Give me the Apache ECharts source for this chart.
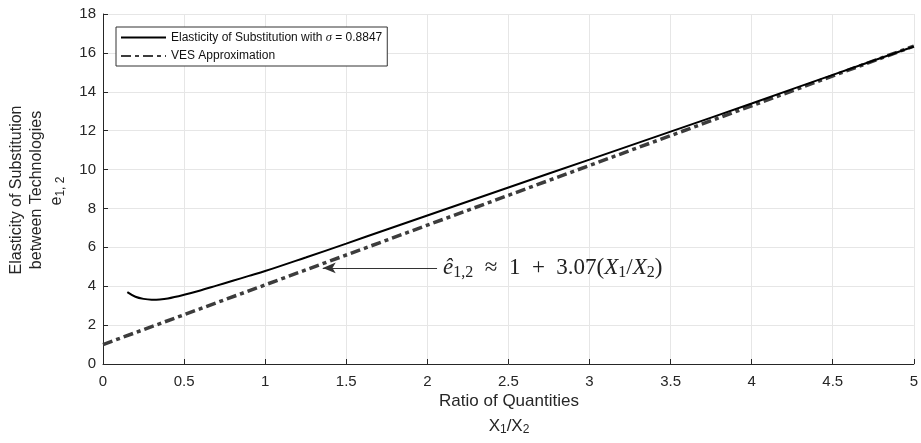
<!DOCTYPE html>
<html><head><meta charset="utf-8">
<script src="https://cdn.jsdelivr.net/npm/echarts@6/dist/echarts.min.js"></script>
<style>html,body{margin:0;padding:0;background:#fff}#c{width:921px;height:443px}</style>
</head><body><div id="c"></div>
<script>
// Data
const ratioX = [0.15, 0.2, 0.25, 0.3, 0.35, 0.4, 0.5, 0.6, 0.7, 0.8, 0.9, 1.0, 1.25, 1.5, 1.75, 2.0, 2.5, 3.0, 3.5, 4.0, 4.5, 5.0];
const elasticityY = [3.70, 3.46, 3.35, 3.31, 3.32, 3.37, 3.56, 3.78, 4.03, 4.28, 4.53, 4.78, 5.48, 6.19, 6.92, 7.64, 9.08, 10.51, 11.95, 13.40, 14.87, 16.33];
const vesX = [0, 5];
const vesY = [1, 16.35];
const xTicks = [0, 0.5, 1, 1.5, 2, 2.5, 3, 3.5, 4, 4.5, 5];
const yTicks = [0, 2, 4, 6, 8, 10, 12, 14, 16, 18];
const annStart = [1.355, 4.94];
const annEnd = [2.06, 4.94];
const seriesNames = ['Elasticity of Substitution with σ = 0.8847', 'VES Approximation'];

const pair = (xs, ys) => xs.map((x, i) => [x, ys[i]]);
const txt = '#262626';
const sans = 'Liberation Sans, Arial, Helvetica, sans-serif';
const serif = 'Liberation Serif, DejaVu Serif, serif';
const en = '\u2002';

const chart = echarts.init(document.getElementById('c'), null, {renderer: 'canvas'});
chart.setOption({
  animation: false,
  backgroundColor: '#fff',
  grid: {left: 103, right: 6, top: 14, bottom: 79, containLabel: false},
  xAxis: {
    type: 'value', min: xTicks[0], max: xTicks[xTicks.length - 1], interval: 0.5,
    axisLine: {show: true, onZero: false, lineStyle: {color: txt, width: 1}},
    axisTick: {show: true, inside: true, length: 5, lineStyle: {color: txt}},
    axisLabel: {color: txt, fontSize: 15, fontFamily: sans, margin: 10},
    splitLine: {show: true, lineStyle: {color: '#e6e6e6', width: 1}}
  },
  yAxis: {
    type: 'value', min: yTicks[0], max: yTicks[yTicks.length - 1], interval: 2,
    axisLine: {show: true, onZero: false, lineStyle: {color: txt, width: 1}},
    axisTick: {show: true, inside: true, length: 5, lineStyle: {color: txt}},
    axisLabel: {color: txt, fontSize: 15, fontFamily: sans, margin: 7},
    splitLine: {show: true, lineStyle: {color: '#e6e6e6', width: 1}}
  },
  legend: {
    show: true, orient: 'vertical', left: 116, top: 27,
    backgroundColor: '#fff', borderColor: '#333', borderWidth: 1,
    padding: [4, 5, 4, 4], itemGap: 6, itemWidth: 45, itemHeight: 12,
    itemStyle: {color: 'rgba(0,0,0,0)', borderWidth: 0, opacity: 0},
    textStyle: {color: '#111', fontSize: 12, fontFamily: sans,
      rich: {i: {fontStyle: 'italic', fontSize: 12.5, fontFamily: serif, color: '#111'}}},
    formatter: n => n.replace('σ', '{i|σ}'),
    data: seriesNames
  },
  series: [
    {
      name: seriesNames[0], type: 'line', data: pair(ratioX, elasticityY),
      showSymbol: false, symbol: 'none', smooth: 0.35, z: 3,
      lineStyle: {color: '#000', width: 2}, itemStyle: {color: '#000'}
    },
    {
      name: seriesNames[1], type: 'line', data: pair(vesX, vesY),
      showSymbol: false, symbol: 'none', z: 2,
      lineStyle: {color: '#3c3c3c', width: 3.5, type: [10, 4, 4, 4]}, itemStyle: {color: '#3c3c3c'},
      markLine: {
        silent: true, animation: false,
        symbol: ['arrow', 'none'], symbolSize: [8, 13],
        lineStyle: {type: 'solid', width: 1, color: '#333'},
        label: {
          show: true, position: 'end', distance: 6,
          formatter: '{i|ê}{s|1,2}{n|' + en + '≈' + en + '1' + en + '+' + en + '3.07(}{i|X}{s|1}{n|/}{i|X}{s|2}{n|)}',
          rich: {
            i: {fontFamily: serif, fontStyle: 'italic', fontSize: 23, color: '#222'},
            n: {fontFamily: serif, fontSize: 23, color: '#222'},
            s: {fontFamily: serif, fontSize: 16, color: '#222', padding: [9, 0, 0, 0]}
          }
        },
        data: [[{coord: annStart}, {coord: annEnd}]]
      }
    }
  ],
  graphic: [
    {type: 'text', x: 17, y: 190, rotation: Math.PI / 2,
      style: {text: 'Elasticity of Substitution', fill: txt, font: '16px ' + sans, textAlign: 'center', textVerticalAlign: 'middle'}},
    {type: 'text', x: 37, y: 190, rotation: Math.PI / 2,
      style: {text: 'between Technologies', fill: txt, font: '16px ' + sans, textAlign: 'center', textVerticalAlign: 'middle'}},
    {type: 'text', x: 57, y: 191, rotation: Math.PI / 2,
      style: {text: '{e|e}{s|1, 2}', textAlign: 'center', textVerticalAlign: 'middle',
        rich: {e: {fontSize: 16, fontFamily: sans, fill: txt},
               s: {fontSize: 12, fontFamily: sans, fill: txt, padding: [8, 0, 0, 0]}}}},
    {type: 'text', x: 509, y: 401,
      style: {text: 'Ratio of Quantities', fill: txt, font: '17px ' + sans, textAlign: 'center', textVerticalAlign: 'middle'}},
    {type: 'text', x: 509, y: 426,
      style: {text: '{n|X}{s|1}{n|/X}{s|2}', textAlign: 'center', textVerticalAlign: 'middle',
        rich: {n: {fontSize: 17, fontFamily: sans, fill: txt},
               s: {fontSize: 12, fontFamily: sans, fill: txt, padding: [8, 0, 0, 0]}}}}
  ]
});
</script></body></html>
